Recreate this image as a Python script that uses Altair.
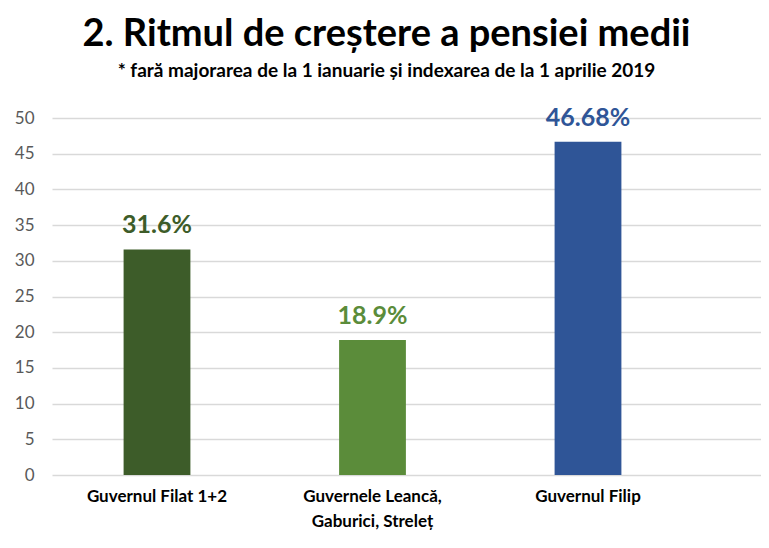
import altair as alt
import pandas as pd

categories = ["Guvernul Filat 1+2", "Guvernele Leancă,|Gaburici, Streleț", "Guvernul Filip"]
values = [31.6, 18.9, 46.68]
labels = ["31.6%", "18.9%", "46.68%"]
colors = ["#3D5C29", "#5B8C3A", "#2F5597"]
y_ticks = [0, 5, 10, 15, 20, 25, 30, 35, 40, 45, 50]

df = pd.DataFrame({"cat": categories, "val": values, "lab": labels, "col": colors})

FONT = "Lato"

x = alt.X("cat:N", sort=categories, title=None,
          scale=alt.Scale(paddingInner=0.69, paddingOuter=0.49, align=0.339),
          axis=alt.Axis(labelAngle=0, labelExpr="split(datum.label, '|')",
                        labelFont=FONT, labelFontSize=17, labelFontWeight="bold",
                        labelColor="#000000", labelPadding=13, labelLineHeight=25,
                        ticks=False, domain=False, grid=False))
y = alt.Y("val:Q", title=None,
          scale=alt.Scale(domain=[0, 50], nice=False),
          axis=alt.Axis(values=y_ticks, labelFont=FONT, labelFontSize=17,
                        labelColor="#595959", labelPadding=18, ticks=False, domain=False,
                        labelOverlap=False,
                        grid=True, gridColor="#D9D9D9", gridWidth=1.5))

base = alt.Chart(df).encode(x=x, y=y, color=alt.Color("col:N", scale=None))

bars = base.mark_bar()

text = base.mark_text(baseline="alphabetic", dy=-16, font=FONT,
                      fontSize=25, fontWeight="bold").encode(text="lab:N")

chart = (bars + text).properties(
    width=709, height=357,
    autosize=alt.AutoSizeParams(type="none"),
    padding={"left": 44, "top": 110, "right": 0, "bottom": 65},
    background="white",
    title=alt.TitleParams(
        text="2. Ritmul de creștere a pensiei medii",
        subtitle="* fară majorarea  de la 1 ianuarie și indexarea de la 1 aprilie 2019",
        font=FONT, fontSize=38, fontWeight="bold", color="#000000",
        subtitleFont=FONT, subtitleFontSize=19, subtitleFontWeight="bold",
        subtitleColor="#000000", subtitlePadding=8,
        anchor="middle", dx=-20, offset=25),
).configure_view(stroke=None)

chart.save("out.html", embed_options={"renderer": "svg", "actions": False})
